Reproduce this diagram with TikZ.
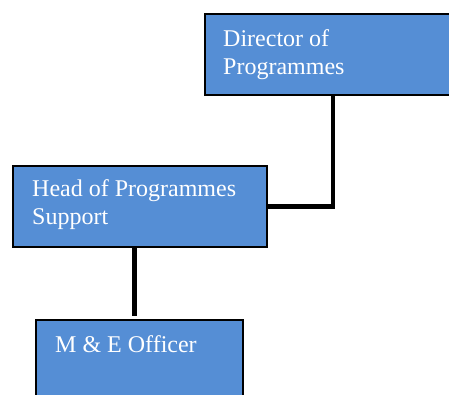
\documentclass[tikz,border=0pt]{standalone}
\usepackage{fontspec}
\setmainfont{Liberation Serif}
\definecolor{boxblue}{RGB}{85,142,213}
\begin{document}
\begin{tikzpicture}[x=1pt,y=-1pt,
  orgbox/.style={draw=black,line width=1.6pt,fill=boxblue,rectangle,inner sep=0pt,anchor=north west},
  lbl/.style={text=white,font=\fontsize{24}{28}\selectfont,inner sep=0pt,anchor=base west},
  link/.style={line width=4.8pt,black}]
\clip (0,0) rectangle (449,394);
\node[orgbox,minimum width=252pt,minimum height=81pt] (dir) at (204,13) {};
\node[orgbox,minimum width=254pt,minimum height=81pt] (head) at (12,165) {};
\node[orgbox,minimum width=207pt,minimum height=85pt] (me) at (35,319) {};
\node[lbl] (d1) at (223,46) {Director of};
\node[lbl] (d2) at (223,74) {Programmes};
\node[lbl] (h1) at (32,196) {Head of Programmes};
\node[lbl] (h2) at (32,224) {Support};
\node[lbl] (m1) at (55,352) {M \& E Officer};
\draw[link] ([xshift=129pt]dir.south west) |- (head.east);
\draw[link,shorten >=3pt] ([xshift=-5pt]head.south) -- ([xshift=-5pt]head.south |- me.north);
\end{tikzpicture}
\end{document}
